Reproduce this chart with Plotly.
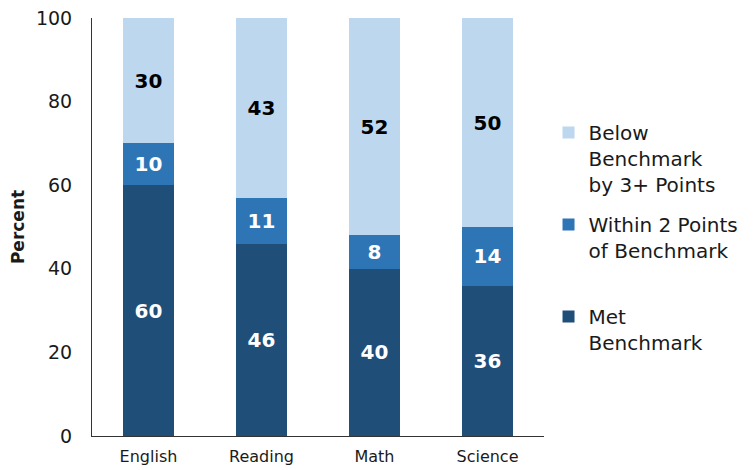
import plotly.graph_objects as go

categories = ["English", "Reading", "Math", "Science"]
met = [60, 46, 40, 36]
within2 = [10, 11, 8, 14]
below3 = [30, 43, 52, 50]
series_names = ["Met<br>Benchmark", "Within 2 Points<br>of Benchmark<br> ", "Below<br>Benchmark<br>by 3+ Points"]
colors = ["#1F4E79", "#2E75B6", "#BDD7EE"]
label_colors = ["white", "white", "black"]
yticks = [0, 20, 40, 60, 80, 100]

FONT = "DejaVu Sans"
fig = go.Figure()
series = [met, within2, below3]
for i, (name, vals, col, lc) in enumerate(zip(series_names, series, colors, label_colors)):
    fig.add_trace(go.Bar(
        x=categories, y=vals, name=name, legendgroup=f"g{i}",
        legendrank=len(series) - i,
        marker=dict(color=col, line=dict(width=0)),
        text=vals, texttemplate="<b>%{text}</b>", textposition="inside",
        insidetextanchor="middle",
        textfont=dict(color=lc, size=20, family=FONT),
        width=0.45,
    ))

# page has an 8px body margin, so the figure is drawn slightly smaller
fig.update_layout(
    barmode="stack",
    width=746, height=462,
    margin=dict(l=84, r=202, t=10, b=34),
    plot_bgcolor="white", paper_bgcolor="white",
    font=dict(family=FONT, color="#1a1a1a"),
    uniformtext=dict(minsize=10, mode="show"),
    legend=dict(
        x=1.01, y=0.773, xanchor="left", yanchor="top",
        traceorder="grouped", valign="top",
        font=dict(size=20, family=FONT, color="#1a1a1a"),
        tracegroupgap=11, itemwidth=30,
    ),
    xaxis=dict(
        showline=True, linecolor="#333333", linewidth=1,
        ticks="", tickfont=dict(size=16, family=FONT),
        ticklabelstandoff=6,
        range=[-0.5, 3.5], automargin=False,
    ),
    yaxis=dict(
        range=[0, 100], tickvals=yticks,
        showline=True, linecolor="#333333", linewidth=1,
        showgrid=False, zeroline=False, ticks="",
        tickfont=dict(size=19, family=FONT),
        ticklabelstandoff=15, automargin=False,
        ticklabeloverflow="allow",
        title=dict(text="<b>Percent</b>", font=dict(size=17, family=FONT), standoff=28),
    ),
)

fig.write_html("out.html")
